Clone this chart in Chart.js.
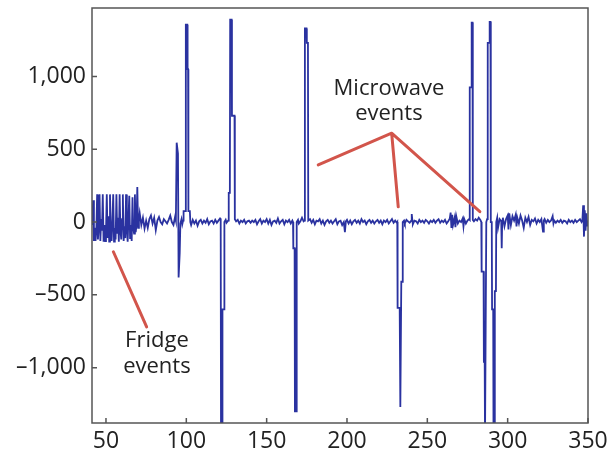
<!DOCTYPE html>
<html>
<head>
<meta charset="utf-8">
<script src="https://cdn.jsdelivr.net/npm/chart.js@4/dist/chart.umd.min.js"></script>
<style>
  html, body { margin: 0; padding: 0; background: #fff; }
  #wrap { width: 611px; height: 460px; }
</style>
</head>
<body>
<div id="wrap"><canvas id="powerChart"></canvas></div>
<script>
// Tiempo (eje x) y potencia (eje y)
var tiempo = [
  41.5, 42, 42.5, 43, 43.5, 44, 44.5, 45, 45.5, 46, 46.5, 47, 47.5, 48, 48.5, 49, 49.5, 50, 50.5, 51,
  51.5, 52, 52.5, 53, 53.5, 54, 54.5, 55, 55.5, 56, 56.5, 57, 57.5, 58, 58.5, 59, 59.5, 60, 60.5, 61,
  61.5, 62, 62.5, 63, 63.5, 64, 64.5, 65, 65.5, 66, 66.5, 67, 67.5, 68, 68.5, 69, 69.5, 70, 70.5,
  71, 72, 73, 74, 75, 76, 77, 78, 79, 80, 81, 82, 83, 84, 85, 86, 87, 88, 89, 90, 91, 92, 93, 93.5,
  94, 94.8, 95.2, 95.9, 96.3, 97, 97.5,
  98, 98.3, 99.5, 99.7, 100.6, 100.8, 101.1, 101.3, 102.2, 102.5,
  103, 104, 105, 106, 107, 108, 109, 110, 111, 112, 113, 114, 115, 116, 117, 118, 119, 120, 121, 121.4,
  121.6, 122.3, 122.5, 123.5, 123.7, 124.5, 125, 126,
  126.3, 126.5, 127.1, 127.3, 128.2, 128.4, 130, 130.2,
  131, 132, 133, 134, 135, 136, 137, 138, 139, 140, 141, 142, 143, 144, 145, 146, 147, 148, 149, 150,
  151, 152, 153, 154, 155, 156, 157, 158, 159, 160, 161, 162, 163, 164, 165, 166,
  166.4, 166.6, 167.4, 167.6, 168.5, 168.7, 169.5, 170, 171, 172, 173,
  173.6, 173.8, 174.8, 175, 175.7, 175.9,
  177, 178, 179, 180, 181, 182, 183, 184, 185, 186, 187, 188, 189, 190, 191, 192, 193, 194, 195, 196,
  197, 198, 198.7, 199.3, 200, 201, 202, 203, 204, 205, 206, 207, 208, 209, 210, 211, 212, 213, 214, 215,
  216, 217, 218, 219, 220, 221, 222, 223, 224, 225, 226, 227, 228, 229, 230, 231,
  231.3, 231.5, 232.8, 233.2, 233.6, 233.8, 234.5, 234.7,
  235.5, 236, 237, 238, 239, 240, 240.3, 240.7, 241, 242, 243, 244, 245, 246, 247, 248, 249, 250,
  251, 252, 253, 254, 255, 256, 257, 258, 259, 260, 261, 262, 263, 264, 264.5, 265, 265.5, 266, 267, 267.5,
  268, 269, 270, 271, 272, 272.5, 273, 274, 275, 276,
  276.3, 276.5, 277.4, 277.6, 278.1, 278.3, 279, 280, 281, 282, 283,
  283.6, 283.8, 285, 285.2, 285.7, 285.9, 286.5, 286.7, 287.2,
  287.5, 287.7, 288.6, 288.8, 289.3, 289.5,
  290.1, 290.3, 291, 291.2, 291.8, 292, 292.7, 292.9, 293.5, 294, 295, 295.7,
  296, 296.3, 296.6, 297, 298, 299, 300, 300.5, 301, 302, 303, 304, 305, 305.5, 306, 307, 308, 309, 310,
  311, 312, 313, 314, 315, 316, 317, 318, 319, 320, 321, 322, 322.5, 323, 324, 325, 326, 327, 328, 328.5,
  329, 330, 331, 332, 333, 334, 335, 336, 337, 338, 339, 340, 341, 342, 343, 344, 345, 346, 346.5,
  347, 347.5, 348, 348.5, 349, 349.5, 350
];
var potencia = [
  -20, 150, -130, -40, -130, -60, 190, -120, -30, 190, -130, 20, -60, 190, -135, -20, -130, -70, 190, -110,
  40, -135, 190, -60, -130, 0, 190, -135, -40, -120, 190, -80, 30, -135, 190, -60, -120, 20, 190, -130,
  -30, -110, 190, -50, -135, 30, 180, -110, -20, -130, 170, -40, -80, 190, -70, -20, 240, -40, 10,
  60, -20, 30, -45, 10, -40, 20, 45, -10, 30, -55, 10, 35, 0, -15, 20, 5, -10, 15, 45, 0, -20, 35, 10,
  545, 470, -380, -210, -10, 20, -15,
  10, 75, 75, 1355, 1355, 1050, 1050, 75, 75, 0,
  -20, 15, -10, 10, -25, 5, 15, -10, 10, -5, 20, -15, 5, 10, -10, 15, -5, 10, 25, 20,
  -1500, -1500, -600, -600, 0, 15, -5, 10,
  10, 200, 200, 1390, 1390, 730, 730, 20,
  5, 15, -10, 10, 0, 15, -10, 5, 10, -5, 10, 0, 15, -15, 5, 20, -10, 10, 0, 20,
  -10, 15, -20, 5, 10, -5, 25, -10, 5, 15, -15, 10, 0, 15, -10, 10,
  0, -180, -180, -1300, -1300, 0, 15, -10, 5, 30, 5,
  10, 1330, 1330, 1230, 1230, 10,
  20, -5, 15, -15, 10, 5, 20, -10, 10, -20, 5, 15, -5, 10, -10, 5, 20, -15, 5, 10,
  -20, 0, -70, 5, 15, -10, 10, -15, 5, 15, -5, 10, -10, 20, 0, 10, -15, 5, 15, -5,
  10, -10, 5, 15, -5, 10, -15, 10, 0, 15, -10, 5, 20, -5, 10, -5,
  0, -590, -590, -1270, -1270, -410, -410, 0,
  10, -10, 15, 5, -5, 10, 55, 10, -15, 10, 5, -10, 15, 0, 10, -5, 15, 5,
  -10, 10, 0, 15, -5, 10, 20, -5, 10, 0, 15, -10, 5, 25, 65, -40, 50, -20, 30, -35,
  40, -10, 10, 0, 25, -30, 20, -10, 10, 20,
  15, 925, 925, 1370, 1370, 15, 5, 20, 10, 30, 15,
  0, -340, -340, -960, -960, -1500, -1500, 0, 20,
  20, 1230, 1230, 1375, 1375, 0,
  0, -600, -600, -1500, -1500, -475, -475, 0, 30, -40, 20, 10,
  10, -180, 10, 30, -30, 20, 45, -50, 60, -20, 40, 10, 50, -30, 30, -10, 45, 10, -40,
  30, 0, 35, -20, 15, 5, 25, -10, 15, 0, 20, -65, 10, 20, -5, 15, 0, 10, 40, -10,
  10, -5, 10, 0, 15, -5, 10, 5, -10, 15, 0, 10, -5, 15, 0, 10, 20, 0, 10,
  115, -100, 80, -60, 60, -30, 10
];
var ticksX = [50, 100, 150, 200, 250, 300, 350];
var ticksY = [-1000, -500, 0, 500, 1000];

var fuente = '"Open Sans", "DejaVu Sans", sans-serif';

// Marco, marcas hacia dentro y notas en rojo
var notas = {
    id: 'notas',
    afterDraw: function (chart) {
        var ctx = chart.ctx;
        var a = chart.chartArea;
        var sx = chart.scales.x;
        var sy = chart.scales.y;
        ctx.save();
        ctx.strokeStyle = '#555';
        ctx.lineWidth = 1.5;
        ctx.strokeRect(a.left, a.top, a.right - a.left, a.bottom - a.top);
        ctx.beginPath();
        ticksX.forEach(function (v) {
            var px = sx.getPixelForValue(v);
            ctx.moveTo(px, a.bottom);
            ctx.lineTo(px, a.bottom - 5);
        });
        ticksY.forEach(function (v) {
            var py = sy.getPixelForValue(v);
            ctx.moveTo(a.left, py);
            ctx.lineTo(a.left + 5, py);
        });
        ctx.stroke();

        function p(x, y) { return [sx.getPixelForValue(x), sy.getPixelForValue(y)]; }
        function linea(d1, d2) {
            var p1 = p(d1[0], d1[1]), p2 = p(d2[0], d2[1]);
            ctx.moveTo(p1[0], p1[1]);
            ctx.lineTo(p2[0], p2[1]);
        }
        ctx.strokeStyle = '#d2554b';
        ctx.lineWidth = 3;
        ctx.lineCap = 'round';
        ctx.beginPath();
        var centro = [227.8, 610];
        linea(centro, [182.1, 392]);
        linea(centro, [231.9, 105]);
        linea(centro, [282.7, 71]);
        linea([54.6, -204], [75.3, -720]);
        ctx.stroke();

        ctx.fillStyle = '#222';
        ctx.font = '22px ' + fuente;
        ctx.textAlign = 'center';
        ctx.textBaseline = 'alphabetic';
        var t;
        t = p(226.1, 873); ctx.fillText('Microwave', t[0], t[1]);
        t = p(226.1, 701); ctx.fillText('events', t[0], t[1]);
        t = p(81.7, -857); ctx.fillText('Fridge', t[0], t[1]);
        t = p(81.7, -1038); ctx.fillText('events', t[0], t[1]);
        ctx.restore();
    }
};

var puntos = tiempo.map(function (x, i) { return { x: x, y: potencia[i] }; });

new Chart(document.getElementById('powerChart').getContext('2d'), {
    type: 'line',
    data: {
        datasets: [{
            data: puntos,
            borderColor: '#2a32a0',
            borderWidth: 1.8,
            pointRadius: 0,
            tension: 0,
            fill: false
        }]
    },
    options: {
        responsive: true,
        maintainAspectRatio: false,
        animation: false,
        layout: { padding: { top: 8, right: 23, bottom: 0, left: 0 } },
        plugins: { legend: { display: false }, tooltip: { enabled: false } },
        scales: {
            x: {
                type: 'linear',
                min: 41.3,
                max: 350,
                afterBuildTicks: function (s) { s.ticks = ticksX.map(function (v) { return { value: v }; }); },
                afterFit: function (s) { s.height = 37; s.paddingLeft = 0; s.paddingRight = 0; },
                grid: { display: false, drawTicks: false },
                border: { display: false },
                ticks: {
                    color: '#222',
                    padding: 5,
                    maxRotation: 0,
                    autoSkip: false,
                    font: { family: fuente, size: 23 }
                }
            },
            y: {
                min: -1380,
                max: 1470,
                afterBuildTicks: function (s) { s.ticks = ticksY.map(function (v) { return { value: v }; }); },
                afterFit: function (s) { s.width = 92; s.paddingTop = 0; s.paddingBottom = 0; },
                grid: { display: false, drawTicks: false },
                border: { display: false },
                ticks: {
                    color: '#222',
                    padding: 6,
                    autoSkip: false,
                    font: { family: fuente, size: 23 },
                    callback: function (v) {
                        var s = Math.abs(v).toLocaleString('en-US');
                        return v < 0 ? '\u2013' + s : s;
                    }
                }
            }
        }
    },
    plugins: [notas]
});
</script>
</body>
</html>
